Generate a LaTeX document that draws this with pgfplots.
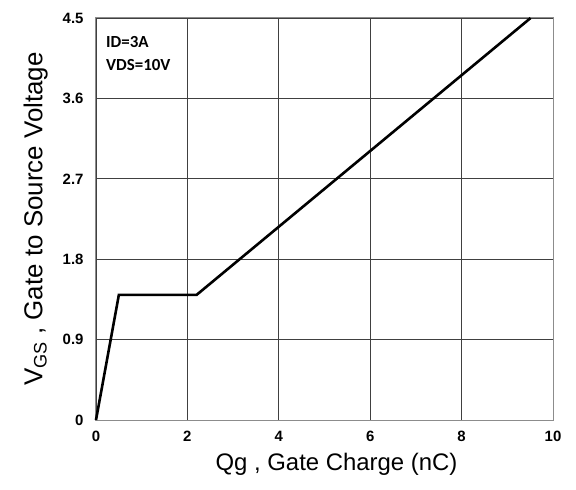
\documentclass[border=0pt]{standalone}
\usepackage{fontspec}
\setmainfont{Liberation Sans}
\newfontfamily\calib{Carlito}
\usepackage{pgfplots}
\pgfplotsset{compat=1.18}
\begin{document}
\begin{tikzpicture}[x=1bp,y=1bp]
\begin{axis}[
  scale only axis,
  width=457bp, height=402bp,
  xmin=0, xmax=10, ymin=0, ymax=4.5,
  xtick={0,2,4,6,8,10},
  ytick={0,0.9,1.8,2.7,3.6,4.5},
  yticklabels={0,0.9,1.8,2.7,3.6,4.5},
  xticklabels={0,2,4,6,8,10},
  grid=major,
  major grid style={black!75, line width=0.8bp},
  axis line style={black!45, line width=1bp},
  major tick length=0pt,
  tick style={draw=none},
  /pgf/number format/assume math mode=true,
  ticklabel style={font=\bfseries\fontsize{15}{17}\selectfont},
  xticklabel style={yshift=-8bp},
  yticklabel style={xshift=-9bp},
  xlabel={Qg , Gate Charge (nC)},
  ylabel={V\textsubscript{GS} , Gate to Source Voltage},
  xlabel style={font=\fontsize{24}{28}\selectfont, yshift=-4bp, xshift=12bp},
  ylabel style={font=\fontsize{26}{30}\selectfont, yshift=8bp},
  clip=false,
]
\addplot[black, line width=2.6bp] coordinates {(0,0) (0.5,1.4) (2.2,1.4) (9.51,4.5)};
\node[anchor=north west, align=left, font=\calib\bfseries\fontsize{17}{23}\selectfont, inner sep=0pt] at ([xshift=10bp,yshift=-18bp]rel axis cs:0,1) {ID=3A\\VDS=10V};
\path ([xshift=-96bp,yshift=-70bp]rel axis cs:0,0) rectangle ([xshift=23bp,yshift=18bp]rel axis cs:1,1);
\end{axis}
\end{tikzpicture}
\end{document}
